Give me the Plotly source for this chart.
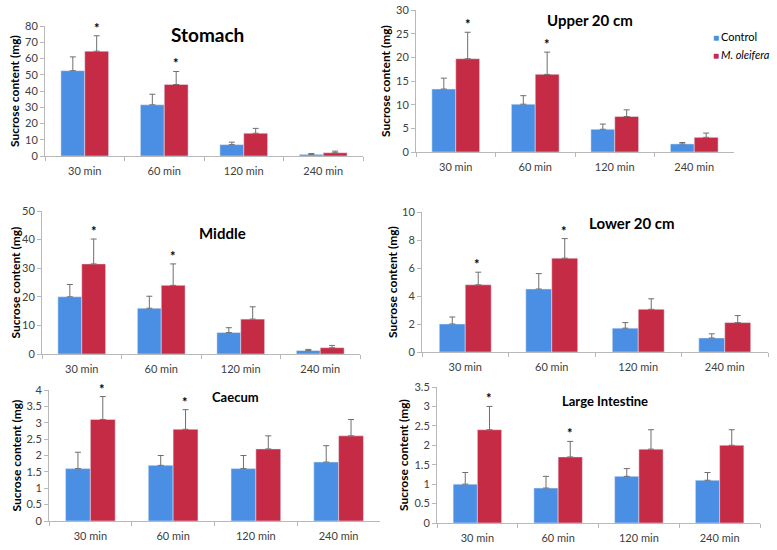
import plotly.graph_objects as go

categories = ["30 min", "60 min", "120 min", "240 min"]
series_names = ["Control", "M. oleifera"]

panel_titles = ["Stomach", "Upper 20 cm", "Middle", "Lower 20 cm", "Caecum", "Large Intestine"]

stomach_control = [52.5, 31.5, 7.0, 1.0]
stomach_control_err = [8.5, 6.5, 1.5, 0.5]
stomach_moringa = [64.5, 44.0, 14.0, 2.0]
stomach_moringa_err = [9.5, 8.0, 3.0, 1.0]
stomach_sig = [True, True, False, False]

upper_control = [13.3, 10.1, 4.8, 1.7]
upper_control_err = [2.3, 1.8, 1.1, 0.3]
upper_moringa = [19.7, 16.4, 7.5, 3.1]
upper_moringa_err = [5.6, 4.7, 1.4, 0.9]
upper_sig = [True, True, False, False]

middle_control = [20.0, 16.0, 7.5, 1.2]
middle_control_err = [4.3, 4.2, 1.7, 0.4]
middle_moringa = [31.5, 24.0, 12.2, 2.2]
middle_moringa_err = [8.7, 7.5, 4.3, 0.8]
middle_sig = [True, True, False, False]

lower_control = [2.0, 4.5, 1.7, 1.0]
lower_control_err = [0.5, 1.1, 0.4, 0.3]
lower_moringa = [4.8, 6.7, 3.05, 2.1]
lower_moringa_err = [0.9, 1.4, 0.75, 0.5]
lower_sig = [True, True, False, False]

caecum_control = [1.6, 1.7, 1.6, 1.8]
caecum_control_err = [0.5, 0.3, 0.4, 0.5]
caecum_moringa = [3.1, 2.8, 2.2, 2.6]
caecum_moringa_err = [0.7, 0.6, 0.4, 0.5]
caecum_sig = [True, True, False, False]

large_control = [1.0, 0.9, 1.2, 1.1]
large_control_err = [0.3, 0.3, 0.2, 0.2]
large_moringa = [2.4, 1.7, 1.9, 2.0]
large_moringa_err = [0.6, 0.4, 0.5, 0.4]
large_sig = [True, True, False, False]

y_ranges = [[0, 80], [0, 30], [0, 50], [0, 10], [0, 4], [0, 3.5]]
y_dticks = [10, 5, 10, 2, 0.5, 0.5]

panels = [
    (stomach_control, stomach_control_err, stomach_moringa, stomach_moringa_err, stomach_sig),
    (upper_control, upper_control_err, upper_moringa, upper_moringa_err, upper_sig),
    (middle_control, middle_control_err, middle_moringa, middle_moringa_err, middle_sig),
    (lower_control, lower_control_err, lower_moringa, lower_moringa_err, lower_sig),
    (caecum_control, caecum_control_err, caecum_moringa, caecum_moringa_err, caecum_sig),
    (large_control, large_control_err, large_moringa, large_moringa_err, large_sig),
]

W, H = 777, 550
# pixel boxes of plot areas: (x0, x1, ytop, ybottom)
boxes = [
    (45, 363, 26, 156),
    (416, 734, 10, 152),
    (42, 360, 211, 354),
    (422, 768, 212, 352),
    (49, 380, 390, 521),
    (437, 760, 387, 523),
]
# title positions (px) and sizes
title_pos = [(207, 35, 19), (590, 20, 15), (222, 233, 15), (632, 223, 15), (235, 397, 13), (605, 401, 13)]
ytitle_x = [14, 386, 15, 392, 16, 403]

BLUE = "#4A8FE3"
RED = "#C52B45"
FONT = "Lato, 'Open Sans', sans-serif"
TICKC = "#404040"

fig = go.Figure()
annotations = []
for i, (c, ce, m, me, sig) in enumerate(panels):
    n = i + 1
    xa = "x" if n == 1 else f"x{n}"
    ya = "y" if n == 1 else f"y{n}"
    fig.add_trace(go.Bar(
        x=categories, y=c, name=series_names[0], marker_color=BLUE,
        error_y=dict(type="data", array=ce, arrayminus=[0] * len(ce), symmetric=False,
                     color="#6f6f6f", thickness=1, width=3),
        xaxis=xa, yaxis=ya, showlegend=False,
    ))
    fig.add_trace(go.Bar(
        x=categories, y=m, name=series_names[1], marker_color=RED,
        error_y=dict(type="data", array=me, arrayminus=[0] * len(me), symmetric=False,
                     color="#6f6f6f", thickness=1, width=3),
        xaxis=xa, yaxis=ya, showlegend=False,
    ))
    x0, x1, yt, yb = boxes[i]
    dom_x = [x0 / W, x1 / W]
    dom_y = [1 - yb / H, 1 - yt / H]
    axis_common = dict(showline=True, linecolor="#b8b8b8", linewidth=1,
                       ticks="outside", tickcolor="#b8b8b8", ticklen=4, automargin=False,
                       tickfont=dict(family=FONT, size=11, color=TICKC))
    fig.update_layout(**{
        ("xaxis" if n == 1 else f"xaxis{n}"): dict(
            domain=dom_x, anchor=ya, type="category", tickson="boundaries",
            ticklabelstandoff=5, showgrid=False, **axis_common),
        ("yaxis" if n == 1 else f"yaxis{n}"): dict(
            domain=dom_y, anchor=xa, range=y_ranges[i], dtick=y_dticks[i],
            showgrid=False, zeroline=False, **axis_common),
    })
    # y axis title
    annotations.append(dict(text="<b>Sucrose content (mg)</b>", x=ytitle_x[i] / W,
                            y=1 - (yt + yb) / 2 / H, xref="paper", yref="paper",
                            showarrow=False, textangle=-90, xanchor="center", yanchor="middle",
                            font=dict(family=FONT, size=12, color="#000000")))
    tx, ty, ts = title_pos[i]
    annotations.append(dict(text=f"<b>{panel_titles[i]}</b>", x=tx / W, y=1 - ty / H,
                            xref="paper", yref="paper", showarrow=False,
                            xanchor="center", yanchor="middle",
                            font=dict(family=FONT, size=ts, color="#000000")))
    for k, s in enumerate(sig):
        if s:
            annotations.append(dict(text="<b>*</b>", x=categories[k], y=m[k] + me[k],
                                    xref=xa, yref=ya, showarrow=False,
                                    xanchor="center", yanchor="middle", xshift=12, yshift=8,
                                    font=dict(family=FONT, size=13, color="#000000")))

# legend (inside Upper 20 cm panel)
legend_items = [(series_names[0], BLUE, 37, False), (series_names[1], RED, 55, True)]
for name, col, ly, ital in legend_items:
    annotations.append(dict(text="■", x=716 / W, y=1 - ly / H, xref="paper", yref="paper",
                            showarrow=False, xanchor="center", yanchor="middle",
                            font=dict(family=FONT, size=10, color=col)))
    annotations.append(dict(text=(f"<i>{name}</i>" if ital else name), x=719 / W, y=1 - ly / H,
                            xref="paper", yref="paper", showarrow=False,
                            xanchor="left", yanchor="middle",
                            font=dict(family=FONT, size=11, color="#000000")))

fig.update_layout(
    width=W, height=H, margin=dict(l=0, r=0, t=0, b=0),
    plot_bgcolor="white", paper_bgcolor="white",
    barmode="group", bargap=0.4, bargroupgap=0,
    annotations=annotations, showlegend=False,
)

fig.write_html("out.html", config={"displayModeBar": False},
               post_script="document.body.style.margin='0';document.body.style.overflow='hidden';")
